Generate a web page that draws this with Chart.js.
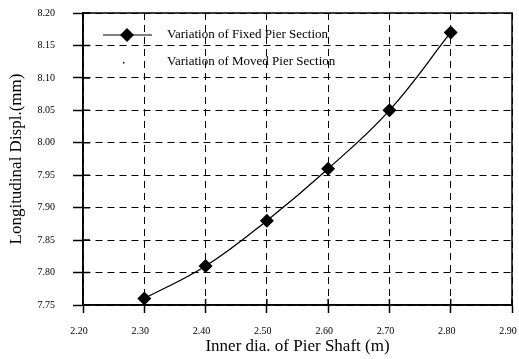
<!DOCTYPE html>
<html>
<head>
<meta charset="utf-8">
<script src="https://cdn.jsdelivr.net/npm/chart.js@4/dist/chart.umd.min.js"></script>
<style>
  html, body { margin: 0; padding: 0; background: #fff; }
</style>
</head>
<body>
<canvas id="myChart" width="519" height="359"></canvas>
<script>
// Значения с графика
const diameters = [2.30, 2.40, 2.50, 2.60, 2.70, 2.80];
const fixedDispl = [7.76, 7.81, 7.88, 7.96, 8.05, 8.17];
const xTicks = [2.20, 2.30, 2.40, 2.50, 2.60, 2.70, 2.80, 2.90];
const yTicks = [7.75, 7.80, 7.85, 7.90, 7.95, 8.00, 8.05, 8.10, 8.15, 8.20];
const seriesNames = ['Variation of Fixed Pier Section', 'Variation of Moved Pier Section'];

const serif = 'Liberation Serif';

// рамка, внутренние засечки и легенда внутри области графика
const framePlugin = {
    id: 'framePlugin',
    afterDraw(chart) {
        const ctx = chart.ctx;
        const a = chart.chartArea;
        const x = chart.scales.x;
        const y = chart.scales.y;
        ctx.save();
        ctx.strokeStyle = '#000';
        ctx.lineWidth = 1.5;
        ctx.setLineDash([]);
        ctx.strokeRect(a.left, a.top, a.right - a.left, a.bottom - a.top);

        ctx.beginPath();
        yTicks.forEach(v => {
            const py = y.getPixelForValue(v);
            ctx.moveTo(a.left, py);
            ctx.lineTo(a.left + 7, py);
        });
        xTicks.forEach(v => {
            const px = x.getPixelForValue(v);
            ctx.moveTo(px, a.bottom);
            ctx.lineTo(px, a.bottom - 6);
        });
        ctx.stroke();

        // легенда
        const lx = a.left + 20;
        const ly1 = a.top + 22;
        const ly2 = a.top + 49;
        ctx.lineWidth = 1.2;
        ctx.beginPath();
        ctx.moveTo(lx, ly1);
        ctx.lineTo(lx + 49, ly1);
        ctx.stroke();
        ctx.fillStyle = '#000';
        ctx.beginPath();
        const cx = lx + 24, r = 7;
        ctx.moveTo(cx - r, ly1);
        ctx.lineTo(cx, ly1 - r);
        ctx.lineTo(cx + r, ly1);
        ctx.lineTo(cx, ly1 + r);
        ctx.closePath();
        ctx.fill();
        ctx.fillRect(lx + 20, ly2, 1.5, 1.5);

        ctx.font = '13px "' + serif + '"';
        ctx.textAlign = 'left';
        ctx.textBaseline = 'middle';
        ctx.fillText(seriesNames[0], a.left + 84, ly1);
        ctx.fillText(seriesNames[1], a.left + 84, ly2);
        ctx.restore();
    }
};

const ctx = document.getElementById('myChart').getContext('2d');
new Chart(ctx, {
    type: 'line',
    data: {
        labels: diameters,
        datasets: [{
            label: seriesNames[0],
            data: diameters.map((d, i) => ({ x: d, y: fixedDispl[i] })),
            borderColor: '#000',
            backgroundColor: '#000',
            borderWidth: 1.3,
            tension: 0.4,
            pointStyle: 'rectRot',
            pointRadius: 7,
            pointHoverRadius: 7,
            pointBackgroundColor: '#000',
            pointBorderColor: '#000',
            pointBorderWidth: 0
        }]
    },
    options: {
        responsive: false,
        animation: false,
        devicePixelRatio: 1,
        layout: { padding: { top: 13, right: 6, left: 0, bottom: 0 } },
        plugins: {
            legend: { display: false },
            tooltip: { enabled: false }
        },
        scales: {
            x: {
                type: 'linear',
                min: 2.20,
                max: 2.90,
                afterBuildTicks: scale => { scale.ticks = xTicks.map(v => ({ value: v })); },
                afterFit: scale => {
                    scale.height = 54;
                    scale.paddingLeft = 0;
                    scale.paddingRight = 0;
                },
                ticks: {
                    color: '#000',
                    font: { family: serif, size: 10 },
                    padding: 12,
                    labelOffset: -4,
                    maxRotation: 0,
                    callback: v => v.toFixed(2)
                },
                grid: {
                    color: '#000',
                    lineWidth: 1,
                    tickLength: 8,
                    tickColor: '#000',
                    tickWidth: 1.5
                },
                border: { display: true, color: '#000', width: 1.5, dash: [7, 5] },
                title: {
                    display: true,
                    text: 'Inner dia. of Pier Shaft (m)',
                    color: '#000',
                    font: { family: serif, size: 17 },
                    padding: { top: 0, bottom: 2 }
                }
            },
            y: {
                type: 'linear',
                min: 7.75,
                max: 8.20,
                afterBuildTicks: scale => { scale.ticks = yTicks.map(v => ({ value: v })); },
                afterFit: scale => {
                    scale.width = 83;
                    scale.paddingTop = 0;
                    scale.paddingBottom = 0;
                },
                ticks: {
                    color: '#000',
                    font: { family: serif, size: 10 },
                    padding: 18,
                    callback: v => v.toFixed(2)
                },
                grid: {
                    color: '#000',
                    lineWidth: 1,
                    tickLength: 10,
                    tickColor: '#000',
                    tickWidth: 1.5
                },
                border: { display: true, color: '#000', width: 1.5, dash: [7, 5] },
                title: {
                    display: true,
                    text: 'Longitudinal Displ.(mm)',
                    color: '#000',
                    font: { family: serif, size: 17 },
                    padding: { top: 6, bottom: 0 }
                }
            }
        }
    },
    plugins: [framePlugin]
});
</script>
</body>
</html>
